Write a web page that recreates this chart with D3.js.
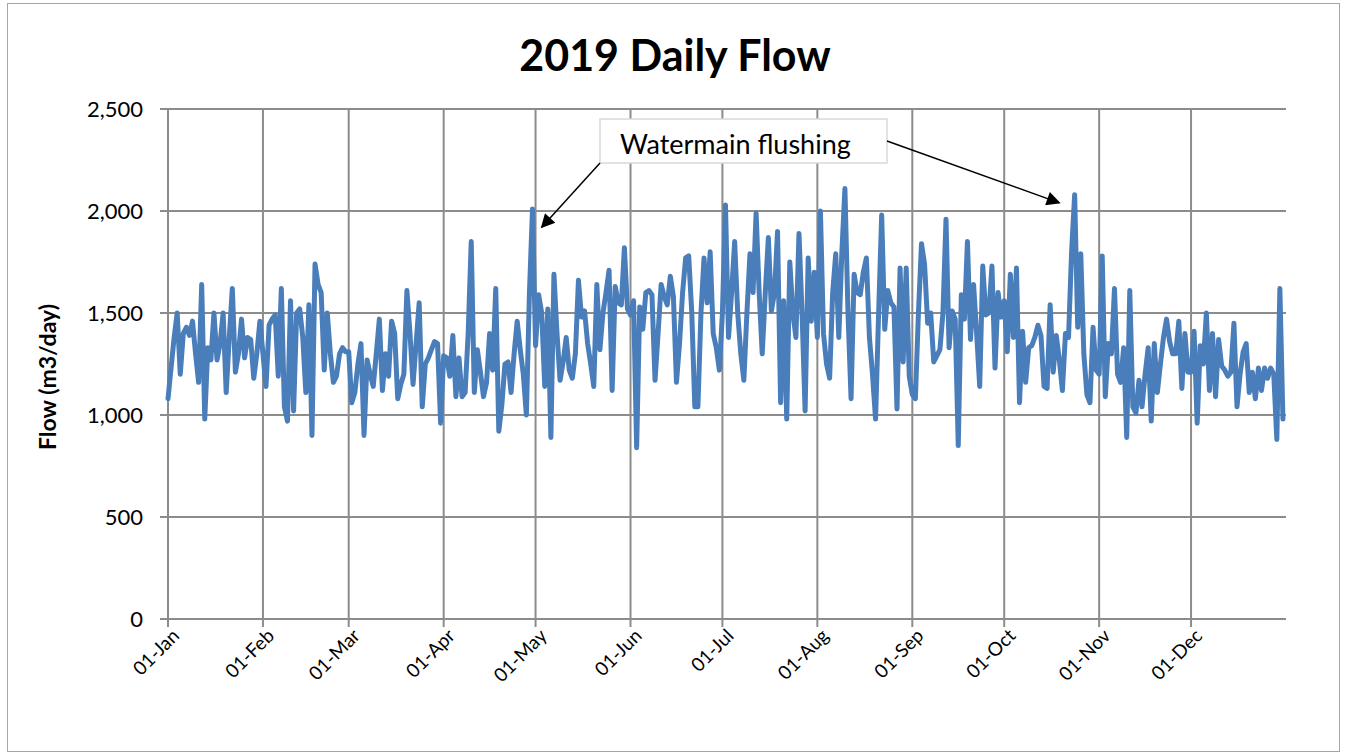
<!DOCTYPE html>
<html>
<head>
<meta charset="utf-8">
<script src="https://cdn.jsdelivr.net/npm/d3@7"></script>
<style>
  body { margin: 0; background: #fff; }
  svg { display: block; font-family: Lato, "Open Sans", sans-serif; }
</style>
</head>
<body>
<svg id="chart" width="1346" height="756"></svg>
<script>
// daily flow, m3/day
var jan = [1080,1230,1380,1500,1200,1400,1430,1390,1460,1300,1160,1640,980,1330,1270,1500,1270,1350,1500,1110,1380,1620,1210,1300,1470,1280,1380,1370,1180,1300,1460];
var feb = [1300,1140,1440,1470,1490,1190,1620,1040,970,1560,1020,1500,1520,1380,1110,1540,900,1740,1640,1600,1220,1500,1300,1160,1190,1300,1330,1310];
var mar = [1310,1060,1110,1250,1350,900,1270,1200,1140,1300,1470,1120,1300,1190,1460,1400,1080,1150,1200,1610,1400,1150,1350,1550,1040,1250,1280,1320,1360,1350,960];
var apr = [1290,1280,1190,1390,1090,1280,1090,1110,1400,1850,1110,1320,1210,1090,1160,1400,1220,1620,920,1050,1250,1260,1110,1300,1460,1320,1200,1000,1600,2010];
var may = [1340,1590,1500,1140,1520,890,1690,1400,1170,1260,1380,1220,1180,1300,1660,1480,1510,1350,1250,1140,1640,1320,1500,1600,1710,1120,1630,1550,1540,1820,1520];
var jun = [1490,1560,840,1530,1420,1600,1610,1590,1170,1400,1640,1580,1540,1680,1580,1160,1350,1600,1770,1780,1500,1040,1040,1500,1770,1550,1800,1400,1330,1220];
var jul = [1500,2030,1380,1600,1850,1500,1300,1170,1500,1790,1600,1990,1600,1300,1600,1870,1510,1600,1900,1060,1560,980,1750,1500,1380,1890,1500,1020,1770,1460,1700];
var aug = [1380,2000,1400,1250,1180,1600,1790,1380,1800,2110,1500,1080,1690,1600,1590,1700,1770,1380,1200,980,1500,1980,1420,1610,1550,1530,1030,1720,1260,1720,1190];
var sep = [1100,1080,1500,1840,1740,1450,1500,1260,1290,1320,1500,1960,1330,1510,1470,850,1590,1470,1850,1370,1640,1400,1140,1730,1490,1500,1730,1230,1600,1480];
var oct = [1560,1310,1690,1380,1720,1060,1410,1160,1330,1340,1380,1440,1390,1140,1130,1540,1210,1390,1270,1120,1400,1380,1800,2080,1430,1790,1300,1100,1060,1430,1220];
var nov = [1200,1780,1090,1350,1300,1620,1200,1160,1330,890,1610,1040,1010,1170,1040,1200,1330,970,1350,1110,1250,1380,1470,1360,1300,1300,1460,1130,1400,1210];
var dec = [1210,1410,960,1340,1250,1500,1120,1400,1090,1370,1240,1220,1190,1210,1450,1040,1200,1310,1350,1110,1210,1080,1230,1120,1230,1180,1230,1200,880,1620,980];

var yTicks = [0, 500, 1000, 1500, 2000, 2500];
var chartTitle = "2019 Daily Flow";
var yTitle = "Flow (m3/day)";
var noteText = "Watermain flushing";
var noteTargets = [{date: new Date(2019, 4, 3), value: 1920}, {date: new Date(2019, 9, 19), value: 2040}];

var flow = [].concat(jan, feb, mar, apr, may, jun, jul, aug, sep, oct, nov, dec);
var data = flow.map(function(v, i) {
  return {date: d3.timeDay.offset(new Date(2019, 0, 1), i), value: v};
});

var LEFT = 168, RIGHT = 1286, TOP = 109, BOTTOM = 619;
var GRID = '#8c8c8c';

var svg = d3.select('#chart');

// outer chart border
svg.append('rect')
  .attr('x', 7.5).attr('y', 3.5)
  .attr('width', 1332).attr('height', 748)
  .attr('fill', 'none')
  .attr('stroke', '#a6a6a6')
  .attr('stroke-width', 1);

var x = d3.scaleTime()
  .domain([new Date(2019, 0, 1), new Date(2020, 0, 1)])
  .range([LEFT, RIGHT]);

var y = d3.scaleLinear()
  .domain([0, 2500])
  .range([BOTTOM, TOP]);

var months = d3.timeMonth.range(new Date(2019, 0, 1), new Date(2020, 0, 1));

// horizontal gridlines
svg.append('g')
  .selectAll('line')
  .data(yTicks)
  .enter().append('line')
  .attr('x1', LEFT - 8).attr('x2', RIGHT)
  .attr('y1', d => y(d)).attr('y2', d => y(d))
  .attr('stroke', GRID)
  .attr('stroke-width', 2);

// vertical gridlines at each month start
svg.append('g')
  .selectAll('line')
  .data(months)
  .enter().append('line')
  .attr('x1', d => x(d)).attr('x2', d => x(d))
  .attr('y1', TOP).attr('y2', BOTTOM + 8)
  .attr('stroke', GRID)
  .attr('stroke-width', 2);

// y axis labels
var yAxis = svg.append('g')
  .attr('transform', 'translate(' + LEFT + ',0)')
  .call(d3.axisLeft(y).tickValues(yTicks).tickSize(0).tickPadding(25).tickFormat(d3.format(',')));
yAxis.select('.domain').remove();
yAxis.selectAll('text')
  .attr('font-size', '22px')
  .attr('font-family', 'Lato, sans-serif')
  .attr('fill', '#000');

// x axis labels, rotated
var xAxis = svg.append('g')
  .attr('transform', 'translate(0,' + BOTTOM + ')')
  .call(d3.axisBottom(x).tickValues(months).tickSize(0).tickFormat(d3.timeFormat('%d-%b')));
xAxis.select('.domain').remove();
xAxis.selectAll('text')
  .attr('font-size', '19px')
  .attr('font-family', 'Lato, sans-serif')
  .attr('fill', '#000')
  .attr('text-anchor', 'end')
  .attr('dy', 0)
  .attr('y', 0)
  .attr('transform', 'translate(12,18) rotate(-45)');

// the flow line
var line = d3.line()
  .x(d => x(d.date))
  .y(d => y(d.value));

svg.append('path')
  .datum(data)
  .attr('d', line)
  .attr('fill', 'none')
  .attr('stroke', '#4a7ebb')
  .attr('stroke-width', 5)
  .attr('stroke-linejoin', 'round')
  .attr('stroke-linecap', 'round');

// title
svg.append('text')
  .attr('x', 675).attr('y', 71)
  .attr('text-anchor', 'middle')
  .attr('font-size', '43px')
  .attr('font-weight', 'bold')
  .attr('fill', '#000')
  .text(chartTitle);

// y axis title
svg.append('text')
  .attr('transform', 'translate(56,377) rotate(-90)')
  .attr('text-anchor', 'middle')
  .attr('font-size', '23px')
  .attr('font-weight', 'bold')
  .attr('fill', '#000')
  .text(yTitle);

// annotation
var defs = svg.append('defs');
defs.append('marker')
  .attr('id', 'arrow')
  .attr('viewBox', '0 0 10 10')
  .attr('refX', 9).attr('refY', 5)
  .attr('markerWidth', 16).attr('markerHeight', 14)
  .attr('markerUnits', 'userSpaceOnUse')
  .attr('orient', 'auto')
  .append('path')
  .attr('d', 'M0,0 L10,5 L0,10 z')
  .attr('fill', '#000');

var box = {x: 600, y: 119, w: 287, h: 44};
svg.append('rect')
  .attr('x', box.x).attr('y', box.y)
  .attr('width', box.w).attr('height', box.h)
  .attr('fill', '#fff')
  .attr('stroke', '#d9d9d9')
  .attr('stroke-width', 1.5);

svg.append('text')
  .attr('x', box.x + 20).attr('y', box.y + 35)
  .attr('font-size', '27px')
  .attr('fill', '#000')
  .text(noteText);

var starts = [[box.x, box.y + box.h], [box.x + box.w, box.y + 22]];
svg.append('g')
  .selectAll('line')
  .data(noteTargets)
  .enter().append('line')
  .attr('x1', (d, i) => starts[i][0])
  .attr('y1', (d, i) => starts[i][1])
  .attr('x2', d => x(d.date))
  .attr('y2', d => y(d.value))
  .attr('stroke', '#000')
  .attr('stroke-width', 1.5)
  .attr('marker-end', 'url(#arrow)');
</script>
</body>
</html>
